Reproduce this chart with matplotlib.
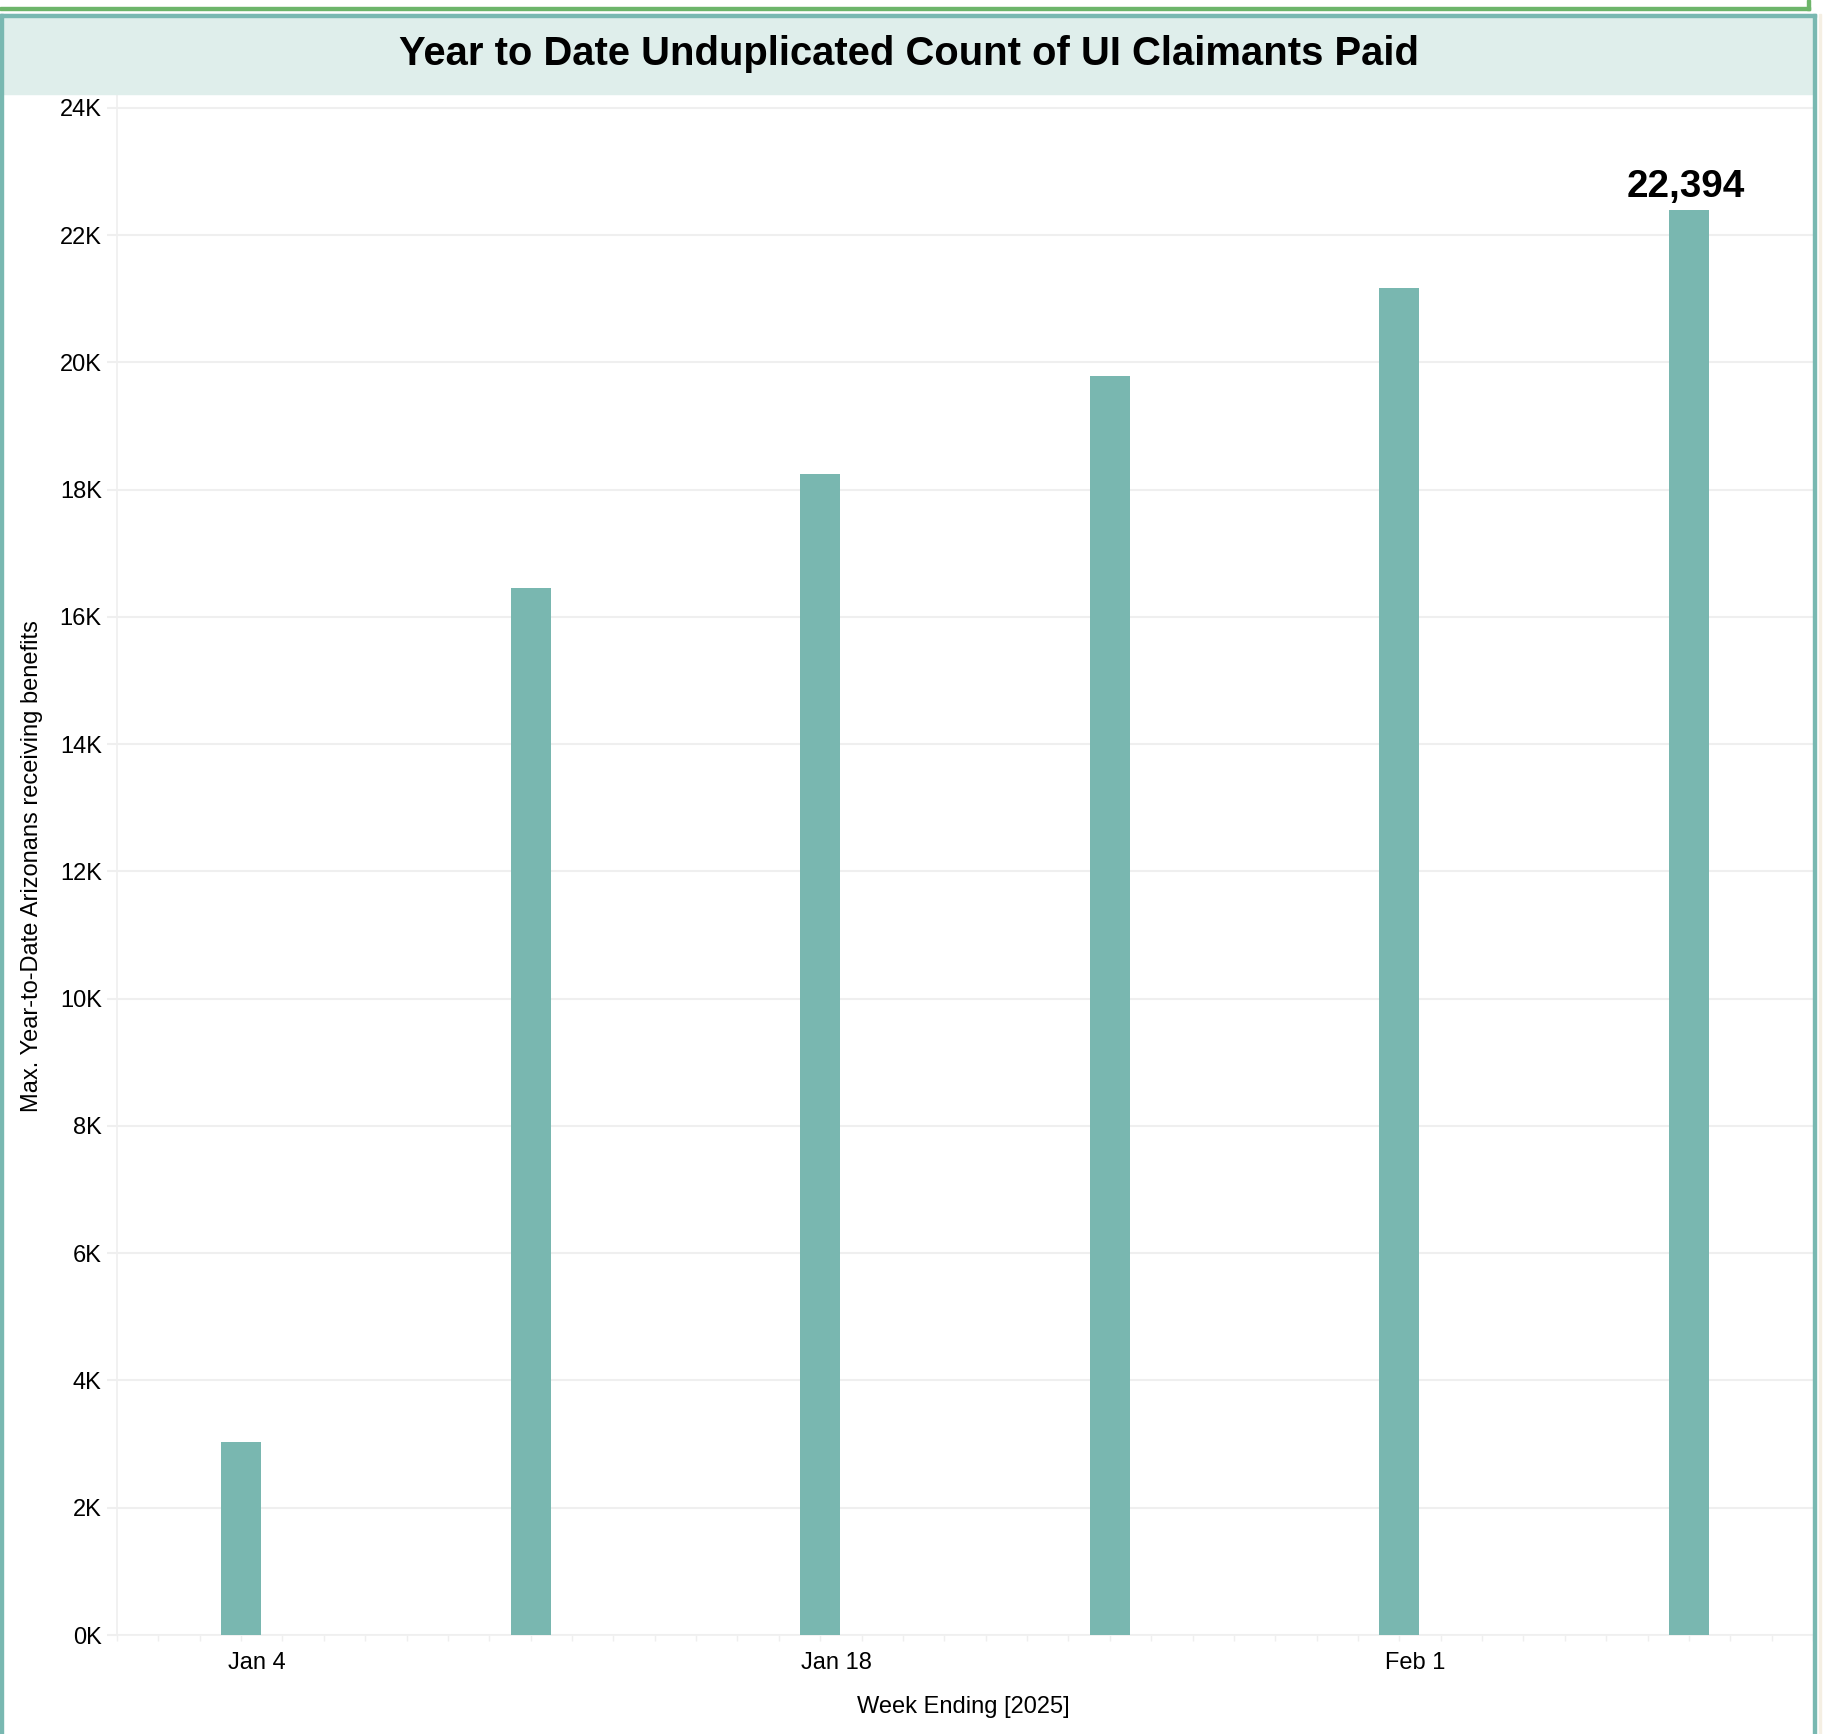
import datetime as dt
import matplotlib
matplotlib.use("Agg")
import matplotlib.pyplot as plt
import matplotlib.dates as mdates
import matplotlib.transforms as mtransforms
from matplotlib.patches import Rectangle
from matplotlib.ticker import FuncFormatter, MultipleLocator

# data
week_ending = ["2025-01-04", "2025-01-11", "2025-01-18", "2025-01-25", "2025-02-01", "2025-02-08"]
claimants = [3030, 16460, 18250, 19790, 21170, 22394]
tick_dates = ["2025-01-04", "2025-01-18", "2025-02-01"]

title = "Year to Date Unduplicated Count of UI Claimants Paid"
x_label = "Week Ending [2025]"
y_label = "Max. Year-to-Date Arizonans receiving benefits"

BAR = "#79b7b0"
TEAL = "#79b8b1"
BAND = "#dfeeeb"
GREEN = "#6db56a"
GRID = "#efefef"
FS = 17

plt.rcParams["font.family"] = ["Liberation Sans", "DejaVu Sans"]

W, H = 1835, 1734
fig = plt.figure(figsize=(W / 100, H / 100), dpi=100)
fig.patch.set_facecolor("white")


def fx(px):
    return px / W


def fy(py):
    return 1 - py / H


# frames around the sheet
fig.patches.append(Rectangle((0, fy(10)), fx(1810), fy(7) - fy(10), color=GREEN, transform=fig.transFigure))
fig.patches.append(Rectangle((fx(1807), fy(10)), fx(3), fy(0) - fy(10), color=GREEN, transform=fig.transFigure))
fig.patches.append(Rectangle((0, fy(94)), fx(1813), fy(14) - fy(94), color=BAND, transform=fig.transFigure))
fig.patches.append(Rectangle((0, fy(17)), fx(1816), fy(14) - fy(17), color=TEAL, transform=fig.transFigure))
fig.patches.append(Rectangle((0, 0), fx(3), fy(14), color=TEAL, transform=fig.transFigure))
fig.patches.append(Rectangle((fx(1813), 0), fx(3), fy(14), color=TEAL, transform=fig.transFigure))
fig.patches.append(Rectangle((fx(1819), 0), fx(1.5), fy(14), color="#f5efe3", transform=fig.transFigure))

ax = fig.add_axes([fx(117), fy(1635), fx(1813) - fx(117), fy(94) - fy(1635)])

dates = [dt.datetime.strptime(d, "%Y-%m-%d") for d in week_ending]
ax.bar(dates, claimants, width=0.97, color=BAR, zorder=3)

ax.set_xlim(dt.datetime(2025, 1, 1), dt.datetime(2025, 2, 11))
ax.set_ylim(0, 24220)

ax.yaxis.set_major_locator(MultipleLocator(2000))
ax.yaxis.set_major_formatter(FuncFormatter(lambda v, p: f"{int(v / 1000)}K"))
ax.set_xticks([dt.datetime.strptime(d, "%Y-%m-%d") for d in tick_dates])
ax.xaxis.set_major_formatter(FuncFormatter(lambda v, p: f"{mdates.num2date(v):%b} {mdates.num2date(v).day}"))
ax.xaxis.set_minor_locator(mdates.DayLocator())

ax.grid(axis="y", color=GRID, linewidth=1.5, zorder=0)
for side in ["top", "right"]:
    ax.spines[side].set_visible(False)
for side in ["left", "bottom"]:
    ax.spines[side].set_color(GRID)
    ax.spines[side].set_linewidth(1.2)

ax.tick_params(axis="y", length=7, width=1.5, color=GRID, labelsize=FS, pad=4)
ax.tick_params(axis="x", which="major", length=4, width=1, color=GRID, labelsize=FS, pad=8)
ax.tick_params(axis="x", which="minor", length=4, width=1, color=GRID)

# tableau puts the date labels a bit right of the tick
shift = mtransforms.ScaledTranslation(0.16, 0, fig.dpi_scale_trans)
for lbl in ax.get_xticklabels():
    lbl.set_transform(lbl.get_transform() + shift)

ax.annotate(f"{claimants[-1]:,}", (dates[-1], claimants[-1]), xytext=(-2, 9.5),
            textcoords="offset points", ha="center", va="baseline",
            fontsize=27.8, fontweight="bold")

fig.text(fx(909), fy(54), title, ha="center", va="center", fontsize=28.8, fontweight="bold")
fig.text(fx(963), fy(1707), x_label, ha="center", va="center", fontsize=FS)
fig.text(fx(32), fy(866), y_label, ha="center", va="center", rotation=90, fontsize=FS)

fig.savefig("out.png", dpi=100)
